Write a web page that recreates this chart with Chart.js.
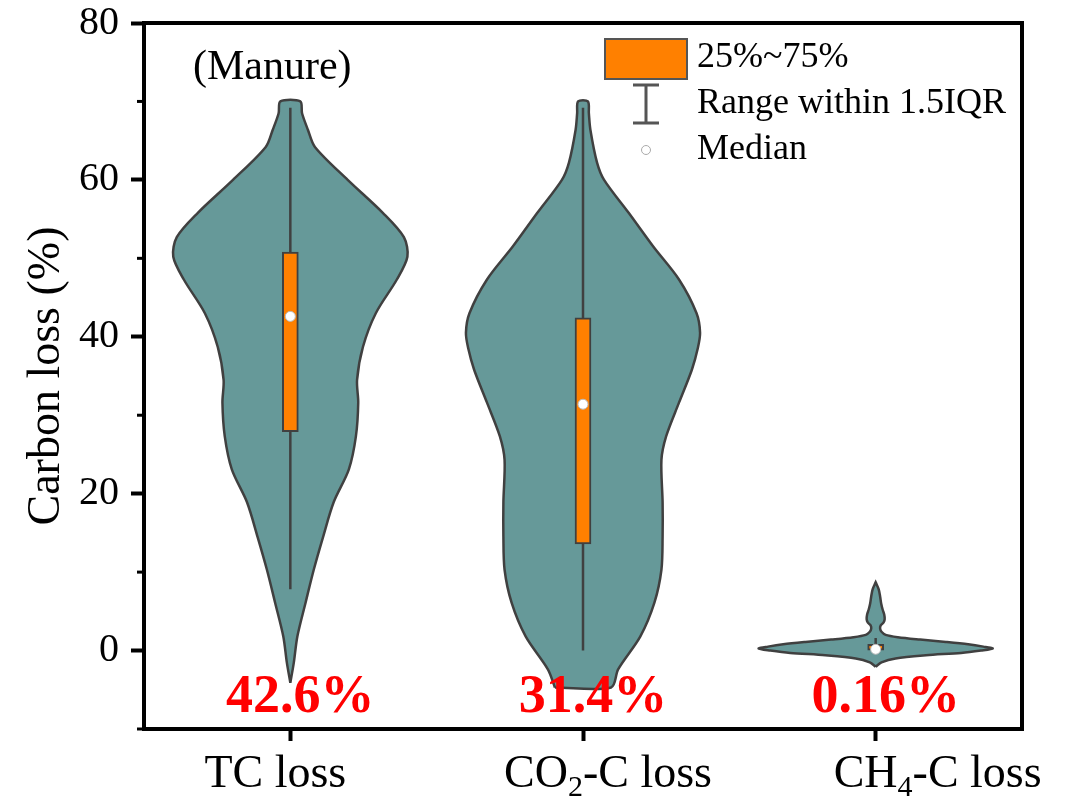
<!DOCTYPE html>
<html>
<head>
<meta charset="utf-8">
<title>Carbon loss (Manure)</title>
<script src="https://cdn.jsdelivr.net/npm/chart.js@4.4.1/dist/chart.umd.min.js"></script>
<style>
  html, body { margin: 0; padding: 0; background: #fff; }
  #chart { display: block; }
</style>
</head>
<body>
<canvas id="chart" width="1069" height="798"></canvas>
<script>
/* ---- values ---- */
const categories   = ['TC loss', 'CO\u2082-C loss', 'CH\u2084-C loss'];
const medians      = [42.6, 31.4, 0.16];
const q1           = [27.9, 13.6, 0.0];
const q3           = [50.8, 42.4, 0.8];
const whiskerLow   = [7.8, 0.0, 0.0];
const whiskerHigh  = [69.2, 69.2, 1.6];
const medianLabels = ['42.6%', '31.4%', '0.16%'];
const yTicks       = [0, 20, 40, 60, 80];
const yMinorTicks  = [-10, 10, 30, 50, 70];

// violin outlines: y levels (bottom -> top) and relative density (1 = widest)
const tcLevels   = [-4.1, -1.5, 1.8, 6.1, 10.3, 14.5, 18.9, 23.1, 27.3, 31.6, 34.5, 38.7, 43.0, 47.3, 50.2, 52.7, 55.8, 60.0, 64.2, 66.4, 68.5, 70.0];
const tcDensity  = [0, 0.03, 0.06, 0.13, 0.20, 0.28, 0.37, 0.50, 0.56, 0.58, 0.57, 0.62, 0.73, 0.91, 1.00, 0.97, 0.79, 0.49, 0.21, 0.15, 0.10, 0.085];
const co2Levels  = [-4.7, -2.4, 1.8, 6.1, 10.3, 14.5, 18.9, 24.3, 27.3, 31.6, 35.8, 38.5, 40.5, 43.0, 47.3, 51.5, 55.8, 60.0, 62.2, 66.4, 68.5, 70.0];
const co2Density = [0.24, 0.30, 0.49, 0.61, 0.67, 0.68, 0.68, 0.67, 0.71, 0.82, 0.93, 0.98, 1.00, 0.97, 0.82, 0.60, 0.39, 0.18, 0.12, 0.063, 0.05, 0.042];
const ch4Levels  = [-2.05, -1.5, -1.0, -0.6, -0.3, 0.0, 0.25, 0.5, 0.8, 1.1, 1.4, 1.7, 2.0, 2.4, 2.8, 3.2, 3.6, 4.0, 4.6, 5.2, 6.0, 6.9, 7.8, 8.7];
const ch4Density = [0, 0.05, 0.17, 0.43, 0.73, 0.90, 1.00, 0.92, 0.79, 0.60, 0.38, 0.19, 0.085, 0.05, 0.038, 0.043, 0.068, 0.077, 0.073, 0.06, 0.047, 0.038, 0.026, 0];

const violinLevels  = [tcLevels, co2Levels, ch4Levels];
const violinDensity = [tcDensity, co2Density, ch4Density];

/* ---- styles ---- */
const SERIF = "'Liberation Serif', 'Times New Roman', serif";
const VIOLIN_HALF = 0.40;          // widest half-width, in category units
const VIOLIN_FILL = '#669999';
const EDGE = '#404040';
const ORANGE = '#FF8000';
const LABEL_SHIFT = [-15, 25, 62]; // x label placement as in the original figure (px)

Chart.defaults.font.family = SERIF;
Chart.defaults.color = '#000';

function violinPoints(i, levels, dens) {
  const left  = levels.map((v, k) => ({ x: i - dens[k] * VIOLIN_HALF, y: v }));
  const right = levels.map((v, k) => ({ x: i + dens[k] * VIOLIN_HALF, y: v })).reverse();
  return left.concat(right, [left[0]]);
}

const violinSets = categories.map((c, i) => ({
  type: 'line',
  label: c + ' violin',
  xAxisID: 'x2',
  data: violinPoints(i, violinLevels[i], violinDensity[i]),
  fill: 'shape',
  backgroundColor: VIOLIN_FILL,
  borderColor: EDGE,
  borderWidth: 2.5,
  pointRadius: 0,
  tension: 0.3,
  order: 3
}));

const whiskerSets = categories.map((c, i) => ({
  type: 'line',
  label: c + ' whisker',
  xAxisID: 'x2',
  data: [{ x: i, y: whiskerLow[i] }, { x: i, y: whiskerHigh[i] }],
  borderColor: EDGE,
  borderWidth: 2.5,
  pointRadius: 0,
  fill: false,
  order: 2
}));

const boxSet = {
  type: 'bar',
  label: '25%~75%',
  xAxisID: 'x',
  data: categories.map((c, i) => [q1[i], q3[i]]),
  backgroundColor: ORANGE,
  borderColor: EDGE,
  borderWidth: 2,
  borderSkipped: false,
  barThickness: 16,
  grouped: false,
  order: 1
};

const medianSet = {
  type: 'scatter',
  label: 'Median',
  xAxisID: 'x2',
  data: categories.map((c, i) => ({ x: i, y: medians[i] })),
  pointRadius: 5,
  pointBackgroundColor: '#fff',
  pointBorderColor: '#bbbbbb',
  pointBorderWidth: 1,
  order: 0
};

const framePlugin = {
  id: 'frame',
  afterDraw(chart) {
    const { ctx, chartArea: a, scales } = chart;
    ctx.save();
    ctx.strokeStyle = '#000';
    ctx.lineWidth = 4;
    ctx.strokeRect(a.left, a.top, a.right - a.left, a.bottom - a.top);
    // minor ticks on the y axis
    ctx.lineWidth = 3;
    yMinorTicks.forEach(v => {
      const py = scales.y.getPixelForValue(v);
      ctx.beginPath();
      ctx.moveTo(a.left - 7, py);
      ctx.lineTo(a.left, py);
      ctx.stroke();
    });
    ctx.restore();
  }
};

// category names with real subscripts (CO2, CH4)
const SUBS = '\u2080\u2081\u2082\u2083\u2084\u2085\u2086\u2087\u2088\u2089';
function drawRichLabel(ctx, text, cx, baseY) {
  const parts = [];
  for (const ch of text) {
    const k = SUBS.indexOf(ch);
    const sub = k >= 0;
    const t = sub ? String(k) : ch;
    const last = parts[parts.length - 1];
    if (last && last.sub === sub) last.t += t; else parts.push({ t, sub });
  }
  const fontFor = p => (p.sub ? '30px ' : '46px ') + SERIF;
  let total = 0;
  parts.forEach(p => { ctx.font = fontFor(p); p.w = ctx.measureText(p.t).width; total += p.w; });
  let x = cx - total / 2;
  parts.forEach(p => {
    ctx.font = fontFor(p);
    ctx.fillText(p.t, x, baseY + (p.sub ? 9 : 0));
    x += p.w;
  });
}

const notesPlugin = {
  id: 'notes',
  afterDraw(chart) {
    const { ctx, chartArea: a, scales } = chart;
    ctx.save();
    // x axis category names
    ctx.fillStyle = '#000';
    ctx.textAlign = 'left';
    ctx.textBaseline = 'alphabetic';
    categories.forEach((c, i) => {
      drawRichLabel(ctx, c, scales.x.getPixelForValue(i) + LABEL_SHIFT[i], a.bottom + 58);
    });
    // red median values
    ctx.fillStyle = '#FF0000';
    ctx.font = 'bold 54px ' + SERIF;
    ctx.textAlign = 'center';
    medianLabels.forEach((t, i) => {
      ctx.fillText(t, scales.x2.getPixelForValue(i) + 10, scales.y.getPixelForValue(-7.8));
    });
    // panel tag
    ctx.fillStyle = '#000';
    ctx.font = '42px ' + SERIF;
    ctx.textAlign = 'left';
    ctx.fillText('(Manure)', a.left + 49, a.top + 56);

    // legend
    const lx = a.left + 461, ly = a.top + 16;
    ctx.fillStyle = ORANGE;
    ctx.fillRect(lx, ly, 82, 40);
    ctx.strokeStyle = '#555';
    ctx.lineWidth = 2;
    ctx.strokeRect(lx, ly, 82, 40);
    const wx = lx + 41;
    ctx.lineWidth = 3;
    ctx.beginPath();
    ctx.moveTo(wx, ly + 46); ctx.lineTo(wx, ly + 84);
    ctx.moveTo(wx - 13, ly + 46); ctx.lineTo(wx + 13, ly + 46);
    ctx.moveTo(wx - 13, ly + 84); ctx.lineTo(wx + 13, ly + 84);
    ctx.stroke();
    ctx.beginPath();
    ctx.arc(wx, ly + 111, 4.5, 0, Math.PI * 2);
    ctx.fillStyle = '#fff';
    ctx.fill();
    ctx.strokeStyle = '#aaa';
    ctx.lineWidth = 1;
    ctx.stroke();
    ctx.fillStyle = '#000';
    ctx.font = '36px ' + SERIF;
    ctx.textBaseline = 'middle';
    ctx.fillText('25%~75%', lx + 92, ly + 19);
    ctx.fillText('Range within 1.5IQR', lx + 92, ly + 65);
    ctx.fillText('Median', lx + 92, ly + 111);
    ctx.restore();
  }
};

new Chart(document.getElementById('chart'), {
  type: 'bar',
  data: {
    labels: categories,
    datasets: [medianSet, boxSet, ...whiskerSets, ...violinSets]
  },
  options: {
    responsive: false,
    animation: false,
    layout: { padding: { top: 23, right: 47, left: 0, bottom: 0 } },
    plugins: { legend: { display: false }, tooltip: { enabled: false } },
    scales: {
      x: {
        type: 'category',
        offset: true,
        grid: { display: true, offset: false, drawOnChartArea: false, tickLength: 12, tickWidth: 4, tickColor: '#000' },
        border: { display: false },
        ticks: { display: false },
        afterFit(s) { s.height = 69; s.paddingLeft = 0; s.paddingRight = 0; }
      },
      x2: { type: 'linear', min: -0.5, max: 2.5, offset: false, display: false },
      y: {
        min: -10,
        max: 80,
        afterBuildTicks(s) { s.ticks = yTicks.map(v => ({ value: v })); },
        grid: { display: true, drawOnChartArea: false, tickLength: 13, tickWidth: 4, tickColor: '#000' },
        border: { display: false },
        ticks: { font: { size: 40 }, color: '#000', padding: 12 },
        title: { display: true, text: 'Carbon loss (%)', font: { size: 46 }, color: '#000', padding: { top: 19, bottom: 0 } },
        afterFit(s) { s.width = 144; s.paddingTop = 0; s.paddingBottom = 0; }
      }
    }
  },
  plugins: [framePlugin, notesPlugin]
});
</script>
</body>
</html>
